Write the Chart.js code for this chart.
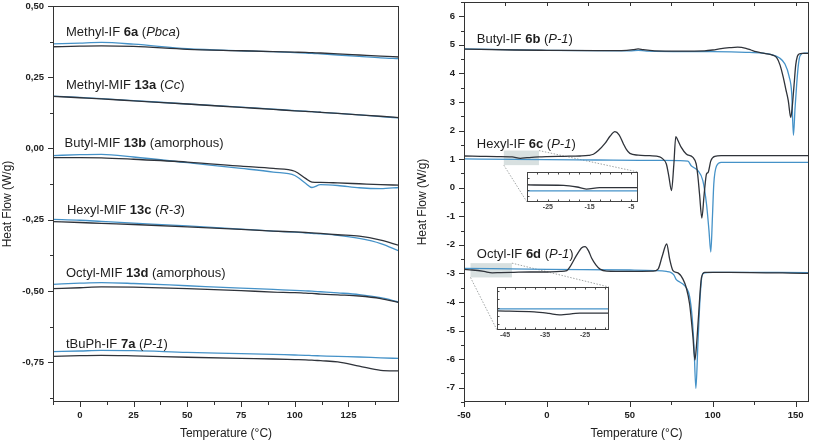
<!DOCTYPE html>
<html>
<head>
<meta charset="utf-8">
<script src="https://cdn.jsdelivr.net/npm/chart.js@4/dist/chart.umd.min.js"></script>
<style>
  html, body { margin: 0; padding: 0; background: #fff; }
  #wrap { position: relative; width: 813px; height: 443px; overflow: hidden; }
  canvas { position: absolute; }
</style>
</head>
<body>
<div id="wrap">
  <canvas id="cLeft" width="410" height="443" style="left:0;top:0"></canvas>
  <canvas id="cRight" width="403" height="443" style="left:410px;top:0"></canvas>
  <canvas id="cInset1" width="126" height="46" style="left:517px;top:168px"></canvas>
  <canvas id="cInset2" width="127" height="60" style="left:487px;top:283px"></canvas>
</div>
<script>
// ---------- left panel (Methyl-IF ... tBuPh-IF) ----------
const leftTemps = [-12.5, 0, 10, 25, 50, 75, 90, 100, 105, 108, 112, 120, 130, 140, 148.5];
const methyl6aBlack = [0.357, 0.359, 0.360, 0.358, 0.348, 0.343, 0.340, 0.338, 0.337, 0.336, 0.335, 0.332, 0.328, 0.324, 0.321];
const methyl6aBlue  = [0.367, 0.370, 0.372, 0.366, 0.350, 0.343, 0.340, 0.336, 0.335, 0.334, 0.332, 0.328, 0.323, 0.318, 0.315];
const methyl13aBlack = [0.183, 0.178, 0.174, 0.167, 0.156, 0.144, 0.137, 0.132, 0.130, 0.129, 0.127, 0.123, 0.118, 0.113, 0.108];
const methyl13aBlue  = [0.184, 0.179, 0.175, 0.168, 0.156, 0.145, 0.138, 0.133, 0.131, 0.129, 0.127, 0.123, 0.118, 0.112, 0.107];
const butyl13bBlack = [-0.032, -0.032, -0.033, -0.038, -0.048, -0.062, -0.070, -0.080, -0.105, -0.118, -0.119, -0.121, -0.124, -0.127, -0.129];
const butyl13bBlue  = [-0.025, -0.022, -0.021, -0.030, -0.050, -0.070, -0.083, -0.095, -0.122, -0.137, -0.127, -0.130, -0.138, -0.141, -0.137];
const hexyl13cBlack = [-0.257, -0.260, -0.263, -0.267, -0.275, -0.284, -0.290, -0.293, -0.295, -0.296, -0.298, -0.303, -0.308, -0.322, -0.340];
const hexyl13cBlue  = [-0.249, -0.252, -0.256, -0.262, -0.272, -0.283, -0.290, -0.294, -0.296, -0.298, -0.300, -0.305, -0.316, -0.334, -0.360];
const octyl13dBlack = [-0.492, -0.489, -0.486, -0.487, -0.492, -0.499, -0.504, -0.506, -0.508, -0.509, -0.511, -0.514, -0.518, -0.527, -0.541];
const octyl13dBlue  = [-0.477, -0.473, -0.471, -0.474, -0.482, -0.490, -0.495, -0.498, -0.500, -0.501, -0.503, -0.507, -0.513, -0.524, -0.539];
const tbuph7aBlack = [-0.730, -0.727, -0.726, -0.728, -0.733, -0.737, -0.739, -0.741, -0.742, -0.743, -0.745, -0.749, -0.764, -0.779, -0.781];
const tbuph7aBlue  = [-0.713, -0.711, -0.709, -0.710, -0.716, -0.720, -0.723, -0.725, -0.726, -0.727, -0.728, -0.730, -0.732, -0.735, -0.737];

const leftXTicks = [0, 25, 50, 75, 100, 125];
const leftXMinor = [-12.5, 12.5, 37.5, 62.5, 87.5, 112.5, 137.5];
const leftYTicks = [0.5, 0.25, 0, -0.25, -0.5, -0.75];
const leftYMinor = [0.375, 0.125, -0.125, -0.375, -0.625, -0.875];

// ---------- right panel (Butyl-IF, Hexyl-IF, Octyl-IF) ----------
const butyl6bBlackT = [-50, -20, 0, 30, 45, 52, 55, 58, 65, 80, 95, 100, 105, 110, 115, 120, 123, 126, 131, 136, 138.5, 140.5, 142.5, 144, 145.5, 147, 148, 149, 150, 151, 152, 154, 158];
const butyl6bBlackV = [4.85, 4.82, 4.81, 4.80, 4.80, 4.83, 4.86, 4.83, 4.79, 4.78, 4.79, 4.82, 4.87, 4.90, 4.92, 4.88, 4.82, 4.76, 4.70, 4.64, 4.55, 4.3, 3.86, 3.45, 3.05, 2.46, 2.9, 3.6, 4.3, 4.6, 4.68, 4.70, 4.70];
const butyl6bBlueT = [-50, 0, 50, 55, 60, 100, 120, 130, 136, 140, 143.5, 146, 147.6, 148.6, 149.6, 150.6, 151.6, 152.6, 155, 158];
const butyl6bBlueV = [4.86, 4.81, 4.79, 4.81, 4.78, 4.76, 4.74, 4.71, 4.65, 4.55, 4.33, 3.9, 3.28, 1.84, 2.8, 3.64, 4.3, 4.62, 4.71, 4.71];

const hexyl6cBlackT = [-50, -40, -30, -21, -16, -12, -5, 0, 10, 20, 25, 28, 31, 35, 38, 41, 43.5, 46, 48, 50, 55, 62, 68, 70, 72, 73.5, 75.1, 76.5, 77.7, 79, 81, 84, 88, 90, 91, 92, 93.4, 94.8, 96.2, 97.2, 98.8, 101.2, 105, 158];
const hexyl6cBlackV = [1.11, 1.10, 1.09, 1.08, 1.03, 1.05, 1.08, 1.09, 1.10, 1.11, 1.13, 1.17, 1.3, 1.55, 1.8, 1.96, 1.85, 1.55, 1.33, 1.2, 1.14, 1.12, 1.08, 1.0, 0.83, 0.4, -0.1, 0.8, 1.79, 1.65, 1.41, 1.18, 1.06, 0.83, 0.4, -0.22, -1.06, -0.22, 0.48, 0.54, 0.94, 1.1, 1.12, 1.12];
const hexyl6cBlueT = [-50, -20, 0, 30, 56, 80, 85, 87, 89, 91, 94, 96.2, 97.7, 98.8, 99.8, 100.6, 102.3, 105, 158];
const hexyl6cBlueV = [1.01, 0.99, 0.98, 0.97, 0.96, 0.95, 0.93, 0.77, 0.69, 0.6, 0.25, -0.57, -1.5, -2.25, -1.0, 0.13, 0.77, 0.89, 0.89];

const octyl6dBlackT = [-50, -45, -38, -33, -28, -20, -10, 0, 8, 12, 14, 18, 21, 23, 25, 27, 29.5, 32, 36, 50, 64, 67, 69.5, 72.2, 74, 76, 79, 82, 84, 86, 88, 89.2, 90.2, 91.2, 93.2, 95.2, 110, 158];
const octyl6dBlackV = [-2.86, -2.88, -2.93, -2.98, -2.97, -2.96, -2.95, -2.95, -2.93, -2.9, -2.76, -2.35, -2.1, -2.06, -2.2, -2.47, -2.7, -2.85, -2.92, -2.93, -2.92, -2.85, -2.4, -1.97, -2.5, -2.9, -2.98, -3.2, -3.5, -4.06, -5.2, -6.03, -5.5, -4.66, -3.14, -2.96, -2.96, -3.0];
const octyl6dBlueT = [-50, 0, 50, 65, 72, 74.5, 76.5, 78, 80, 82, 84, 86, 87.5, 88.7, 89.8, 91, 92.5, 94, 100, 158];
const octyl6dBlueV = [-2.82, -2.86, -2.88, -2.9, -2.93, -2.96, -3.05, -3.22, -3.3, -3.37, -3.5, -3.8, -4.5, -5.6, -7.02, -5.5, -3.7, -3.0, -2.96, -2.97];

const rightXTicks = [-50, 0, 50, 100, 150];
const rightXMinor = [-25, 25, 75, 125];
const rightYTicks = [-7, -6, -5, -4, -3, -2, -1, 0, 1, 2, 3, 4, 5, 6];
const rightYMinor = [-7.5, -6.5, -5.5, -4.5, -3.5, -2.5, -1.5, -0.5, 0.5, 1.5, 2.5, 3.5, 4.5, 5.5, 6.5];

// ---------- insets ----------
const inset1T = [-30, -21.2, -18, -15.8, -12.6, -3.4];
const inset1Black = [1.084, 1.078, 1.05, 1.016, 1.041, 1.041];
const inset1Blue = [0.987, 0.987, 0.987, 0.987, 0.987, 0.987];
const inset1XTicks = [-25, -15, -5];
const inset1XMinor = [-27.5, -22.5, -20, -17.5, -12.5, -10, -7.5];
const inset1YTicks = [0.9, 1.0, 1.1, 1.2];

const inset2T = [-47, -37.7, -34, -31.4, -26.3, -19];
const inset2Black = [-2.939, -2.951, -2.97, -2.987, -2.967, -2.967];
const inset2Blue = [-2.914, -2.914, -2.914, -2.914, -2.914, -2.914];
const inset2XTicks = [-45, -35, -25];
const inset2XMinor = [-42.5, -40, -37.5, -32.5, -30, -27.5, -22.5, -20];
const inset2YTicks = [-3.1, -3.0, -2.9, -2.8, -2.7];

// zoomed regions shown on the right panel: [t0, t1, vLow, vHigh]
const zoomBox1 = [-26, -4.8, 0.79, 1.3];
const zoomBox2 = [-46.1, -21.1, -3.14, -2.64];

// ---------- annotations ----------
const leftNames = [
  { t: -6.45, v: 0.395, parts: [['Methyl-IF ', ''], ['6a', 'b'], [' (', ''], ['Pbca', 'i'], [')', '']] },
  { t: -6.45, v: 0.208, parts: [['Methyl-MIF ', ''], ['13a', 'b'], [' (', ''], ['Cc', 'i'], [')', '']] },
  { t: -7.1, v: 0.005, parts: [['Butyl-MIF ', ''], ['13b', 'b'], [' (amorphous)', '']] },
  { t: -6.0, v: -0.229, parts: [['Hexyl-MIF ', ''], ['13c', 'b'], [' (', ''], ['R-3', 'i'], [')', '']] },
  { t: -6.45, v: -0.450, parts: [['Octyl-MIF ', ''], ['13d', 'b'], [' (amorphous)', '']] },
  { t: -6.45, v: -0.699, parts: [['tBuPh-IF ', ''], ['7a', 'b'], [' (', ''], ['P-1', 'i'], [')', '']] },
];
const rightNames = [
  { t: -42.3, v: 5.055, parts: [['Butyl-IF ', ''], ['6b', 'b'], [' (', ''], ['P-1', 'i'], [')', '']] },
  { t: -42.3, v: 1.40, parts: [['Hexyl-IF ', ''], ['6c', 'b'], [' (', ''], ['P-1', 'i'], [')', '']] },
  { t: -42.3, v: -2.47, parts: [['Octyl-IF ', ''], ['6d', 'b'], [' (', ''], ['P-1', 'i'], [')', '']] },
];

const BLACK = '#2f333a';
const BLUE = '#4592c8';
const FONT = '"Liberation Sans", Arial, sans-serif';
const insetCharts = {};

function series(ts, vs, color) {
  return {
    data: ts.map((t, i) => ({ x: t, y: vs[i] })),
    borderColor: color,
    borderWidth: 1.3,
    pointRadius: 0,
    cubicInterpolationMode: 'monotone',
    fill: false,
  };
}

function pair(ts, black, blue) {
  return [series(ts, black, BLACK), series(ts, blue, BLUE)];
}

const decor = {
  id: 'decor',
  beforeDatasetsDraw(chart, args, o) {
    const { ctx, chartArea: a, scales: { x, y } } = chart;
    ctx.save();
    if (o.background) {
      ctx.fillStyle = o.background;
      ctx.fillRect(a.left, a.top, a.width, a.height);
    }
    (o.zooms || []).forEach(z => {
      const [t0, t1, v0, v1] = z.box;
      const x0 = x.getPixelForValue(t0), x1 = x.getPixelForValue(t1);
      const yLow = y.getPixelForValue(v0), yHigh = y.getPixelForValue(v1);
      ctx.fillStyle = 'rgba(190,203,203,0.6)';
      ctx.fillRect(x0, yHigh, x1 - x0, yLow - yHigh);
      const ins = insetCharts[z.inset];
      const ia = ins.chartArea;
      const dx = ins.canvas.offsetLeft - chart.canvas.offsetLeft;
      const dy = ins.canvas.offsetTop - chart.canvas.offsetTop;
      ctx.strokeStyle = '#8a8f8f';
      ctx.lineWidth = 0.8;
      ctx.setLineDash([1.5, 1.5]);
      ctx.beginPath();
      ctx.moveTo(x0, yLow); ctx.lineTo(ia.left + dx, ia.bottom + dy);
      ctx.moveTo(x1, yHigh); ctx.lineTo(ia.right + dx, ia.top + dy);
      ctx.stroke();
    });
    ctx.restore();
  },
  afterDatasetsDraw(chart, args, o) {
    const { ctx, chartArea: a, scales } = chart;
    ctx.save();
    // frame
    ctx.strokeStyle = o.frameColor || '#333';
    ctx.lineWidth = 1;
    ctx.strokeRect(a.left + 0.5, a.top + 0.5, a.width - 1, a.height - 1);
    // tick marks
    ctx.beginPath();
    (o.marks || []).forEach(m => {
      const s = scales[m.axis];
      m.values.forEach(v => {
        const p = Math.round(s.getPixelForValue(v)) + 0.5;
        if (m.edge === 'bottom') { ctx.moveTo(p, a.bottom); ctx.lineTo(p, a.bottom + m.len); }
        if (m.edge === 'top') { ctx.moveTo(p, a.top); ctx.lineTo(p, a.top - m.len); }
        if (m.edge === 'left') { ctx.moveTo(a.left, p); ctx.lineTo(a.left - m.len, p); }
      });
    });
    ctx.stroke();
    // series names
    ctx.fillStyle = '#1e1e1e';
    ctx.textBaseline = 'alphabetic';
    (o.names || []).forEach(n => {
      let cx = scales.x.getPixelForValue(n.t);
      const cy = scales.y.getPixelForValue(n.v);
      n.parts.forEach(([txt, st]) => {
        ctx.font = (st === 'i' ? 'italic ' : '') + (st === 'b' ? 'bold ' : '') + '13px ' + FONT;
        ctx.fillText(txt, cx, cy);
        cx += ctx.measureText(txt).width;
      });
    });
    ctx.restore();
  }
};

const tickFont = { family: FONT, size: 9.5, weight: 'bold' };
const titleFont = { family: FONT, size: 12 };

function fixed(list) {
  return scale => { scale.ticks = list.map(v => ({ value: v })); };
}

function mainChart(id, datasets, opt) {
  return new Chart(document.getElementById(id), {
    type: 'line',
    data: { datasets },
    options: {
      responsive: false,
      animation: false,
      events: [],
      layout: { padding: opt.padding },
      plugins: {
        legend: { display: false },
        tooltip: { enabled: false },
        decor: { marks: opt.marks, names: opt.names, zooms: opt.zooms },
      },
      scales: {
        x: {
          type: 'linear', min: opt.xMin, max: opt.xMax,
          afterBuildTicks: fixed(opt.xTicks),
          afterFit: s => { s.height = 41; s.paddingLeft = 0; s.paddingRight = 0; },
          grid: { display: false, drawTicks: false },
          border: { display: false },
          ticks: { padding: 8, font: tickFont, color: '#222', maxRotation: 0 },
          title: { display: true, text: 'Temperature (°C)', font: titleFont, color: '#222', padding: { top: 2.5, bottom: 2.5 } },
        },
        y: {
          type: 'linear', min: opt.yMin, max: opt.yMax,
          afterBuildTicks: fixed(opt.yTicks),
          afterFit: s => { s.width = opt.yWidth; s.paddingTop = 0; s.paddingBottom = 0; },
          grid: { display: false, drawTicks: false },
          border: { display: false },
          ticks: { padding: 9, font: tickFont, color: '#222', callback: opt.yFormat },
          title: { display: true, text: 'Heat Flow (W/g)', font: titleFont, color: '#222', padding: { top: opt.yTitlePad, bottom: opt.yTitlePad } },
        },
      },
    },
    plugins: [decor],
  });
}

function insetChart(id, ts, black, blue, opt) {
  insetCharts[id] = new Chart(document.getElementById(id), {
    type: 'line',
    data: { datasets: pair(ts, black, blue) },
    options: {
      responsive: false,
      animation: false,
      events: [],
      layout: { padding: { left: 10, right: 5, top: 4, bottom: 0 } },
      plugins: {
        legend: { display: false },
        tooltip: { enabled: false },
        decor: {
          background: '#fff',
          frameColor: '#444',
          marks: [
            { axis: 'x', edge: 'top', values: opt.xTicks.concat(opt.xMinor), len: -2.5 },
            { axis: 'x', edge: 'bottom', values: opt.xTicks.concat(opt.xMinor), len: -2.5 },
            { axis: 'y', edge: 'left', values: opt.yTicks, len: -2.5 },
          ],
        },
      },
      scales: {
        x: {
          type: 'linear', min: opt.xMin, max: opt.xMax,
          afterBuildTicks: fixed(opt.xTicks),
          afterFit: s => { s.height = opt.xHeight; s.paddingLeft = 0; s.paddingRight = 0; },
          grid: { display: false, drawTicks: false },
          border: { display: false },
          ticks: { padding: 1, font: { family: FONT, size: 7, weight: 'bold' }, color: '#444', maxRotation: 0 },
        },
        y: {
          type: 'linear', min: opt.yMin, max: opt.yMax,
          afterFit: s => { s.width = 0; s.paddingTop = 0; s.paddingBottom = 0; },
          grid: { display: false, drawTicks: false },
          border: { display: false },
          ticks: { display: false },
        },
      },
    },
    plugins: [decor],
  });
}

insetChart('cInset1', inset1T, inset1Black, inset1Blue, {
  xMin: -30, xMax: -3.4, yMin: 0.8, yMax: 1.3, xHeight: 12,
  xTicks: inset1XTicks, xMinor: inset1XMinor, yTicks: inset1YTicks,
});
insetChart('cInset2', inset2T, inset2Black, inset2Blue, {
  xMin: -47, xMax: -19, yMin: -3.17, yMax: -2.65, xHeight: 13,
  xTicks: inset2XTicks, xMinor: inset2XMinor, yTicks: inset2YTicks,
});

mainChart('cLeft', [].concat(
  pair(leftTemps, methyl6aBlack, methyl6aBlue),
  pair(leftTemps, methyl13aBlack, methyl13aBlue),
  pair(leftTemps, butyl13bBlack, butyl13bBlue),
  pair(leftTemps, hexyl13cBlack, hexyl13cBlue),
  pair(leftTemps, octyl13dBlack, octyl13dBlue),
  pair(leftTemps, tbuph7aBlack, tbuph7aBlue)
), {
  padding: { left: 0, right: 11, top: 6, bottom: 0 },
  xMin: -12.5, xMax: 148.5, yMin: -0.89, yMax: 0.5,
  xTicks: leftXTicks, yTicks: leftYTicks, yWidth: 53, yTitlePad: 0,
  yFormat: v => v.toFixed(2).replace('.', ','),
  names: leftNames,
  marks: [
    { axis: 'x', edge: 'bottom', values: leftXTicks, len: 5 },
    { axis: 'x', edge: 'bottom', values: leftXMinor, len: 3 },
    { axis: 'y', edge: 'left', values: leftYTicks, len: 5 },
    { axis: 'y', edge: 'left', values: leftYMinor, len: 3 },
  ],
});

mainChart('cRight', [].concat(
  [series(butyl6bBlackT, butyl6bBlackV, BLACK), series(butyl6bBlueT, butyl6bBlueV, BLUE)],
  [series(hexyl6cBlackT, hexyl6cBlackV, BLACK), series(hexyl6cBlueT, hexyl6cBlueV, BLUE)],
  [series(octyl6dBlackT, octyl6dBlackV, BLACK), series(octyl6dBlueT, octyl6dBlueV, BLUE)]
), {
  padding: { left: 0, right: 4, top: 2, bottom: 0 },
  xMin: -50, xMax: 158, yMin: -7.5, yMax: 6.5,
  xTicks: rightXTicks, yTicks: rightYTicks, yWidth: 54, yTitlePad: 5,
  yFormat: v => String(v),
  names: rightNames,
  zooms: [{ box: zoomBox1, inset: 'cInset1' }, { box: zoomBox2, inset: 'cInset2' }],
  marks: [
    { axis: 'x', edge: 'bottom', values: rightXTicks, len: 5 },
    { axis: 'x', edge: 'bottom', values: rightXMinor, len: 3 },
    { axis: 'x', edge: 'top', values: rightXTicks.concat(rightXMinor), len: -4 },
    { axis: 'y', edge: 'left', values: rightYTicks, len: 5 },
    { axis: 'y', edge: 'left', values: rightYMinor, len: 3 },
  ],
});
</script>
</body>
</html>
